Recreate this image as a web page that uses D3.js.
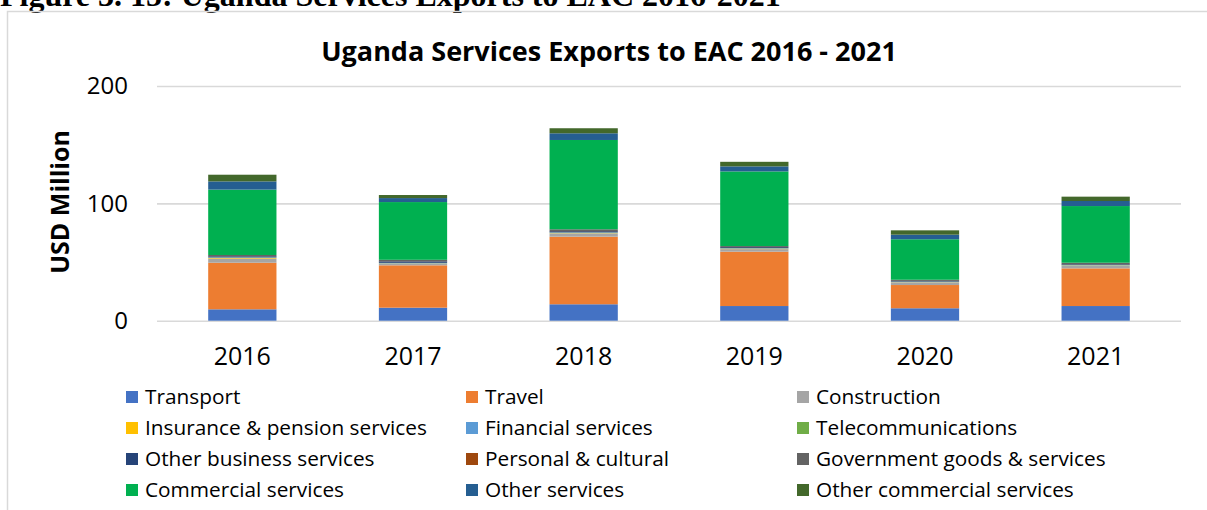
<!DOCTYPE html>
<html>
<head>
<meta charset="utf-8">
<script src="https://cdn.jsdelivr.net/npm/d3@7"></script>
<style>
  body { margin: 0; background: #fff; }
  svg { display: block; font-family: "Open Sans", sans-serif; }
</style>
</head>
<body>
<svg id="chart" width="1207" height="510"></svg>
<script>
// ── Data (USD million) ────────────────────────────────────────────────────
const years = ['2016', '2017', '2018', '2019', '2020', '2021'];

const seriesNames = [
  'Transport', 'Travel', 'Construction',
  'Insurance & pension services', 'Financial services', 'Telecommunications',
  'Other business services', 'Personal & cultural', 'Government goods & services',
  'Commercial services', 'Other services', 'Other commercial services'
];

const transport      = [9.7, 11.1, 14.0, 12.5, 10.6, 12.5];
const travel         = [39.7, 36.1, 57.6, 46.3, 19.8, 32.1];
const construction   = [3.5, 1.2, 2.5, 2.2, 2.2, 2.2];
const insurance      = [0.5, 0.3, 0.4, 0.3, 0.2, 0.2];
const financial      = [0.4, 0.4, 0.6, 0.4, 0.3, 0.3];
const telecom        = [0.2, 0.2, 0.2, 0.2, 0.2, 0.2];
const otherBusiness  = [0.9, 1.3, 1.0, 0.8, 0.5, 0.6];
const personal       = [0.1, 0.1, 0.1, 0.1, 0.1, 0.1];
const government     = [1.0, 1.2, 1.5, 0.8, 1.0, 1.2];
const commercial     = [55.7, 49.2, 76.1, 63.6, 34.5, 48.3];
const otherServices  = [7.0, 3.4, 5.7, 4.3, 3.9, 4.3];
const otherCommercial = [5.7, 2.6, 4.3, 3.9, 3.7, 3.7];

const yTicks = [0, 100, 200];

const colors = [
  '#4472C4', '#ED7D31', '#A5A5A5',
  '#FFC000', '#5B9BD5', '#70AD47',
  '#264478', '#9E480E', '#636363',
  '#00B050', '#255E91', '#43682B'
];

// build rows for d3.stack
const columns = [transport, travel, construction, insurance, financial, telecom,
  otherBusiness, personal, government, commercial, otherServices, otherCommercial];
const rows = years.map((yr, i) => {
  const r = { year: yr };
  seriesNames.forEach((name, k) => { r[name] = columns[k][i]; });
  return r;
});

const svg = d3.select('#chart');

// ── Frame + caption (caption is clipped by the top edge, as in the source) ──
svg.append('text')
  .attr('x', 0).attr('y', 6)
  .style('font-family', '"Liberation Serif", "Times New Roman", serif')
  .style('font-weight', 'bold')
  .style('font-size', '32px')
  .attr('fill', '#000')
  .text('Figure 3. 15: Uganda Services Exports to EAC 2016-2021');

svg.append('path')
  .attr('d', 'M7.5,510 V11.5 H1207')
  .attr('fill', 'none')
  .attr('stroke', '#d9d9d9')
  .attr('stroke-width', 1.5);

// ── Scales ───────────────────────────────────────────────────────────────
const x = d3.scaleBand().domain(years).range([157, 1181]).paddingInner(0.6).paddingOuter(0.3);
const y = d3.scaleLinear().domain([0, 200]).range([320.7, 86]);

// gridlines
const yAxis = svg.append('g')
  .attr('transform', 'translate(157,0)')
  .call(d3.axisLeft(y).tickValues(yTicks).tickSize(-1024).tickPadding(29));
yAxis.select('.domain').remove();
yAxis.selectAll('line').attr('stroke', '#d9d9d9').attr('stroke-width', 1.6);
yAxis.selectAll('text')
  .attr('fill', '#000')
  .style('font-family', '"Open Sans", sans-serif')
  .style('font-size', '24px');

// ── Bars ─────────────────────────────────────────────────────────────────
const stacked = d3.stack().keys(seriesNames)(rows);

svg.append('g')
  .selectAll('g')
  .data(stacked)
  .join('g')
  .attr('fill', (d, i) => colors[i])
  .selectAll('rect')
  .data(d => d)
  .join('rect')
  .attr('x', d => x(d.data.year))
  .attr('width', x.bandwidth())
  .attr('y', d => y(d[1]))
  .attr('height', d => y(d[0]) - y(d[1]));

// ── X axis labels ────────────────────────────────────────────────────────
const xAxis = svg.append('g')
  .attr('transform', 'translate(0,320.7)')
  .call(d3.axisBottom(x).tickSize(0).tickPadding(27));
xAxis.select('.domain').remove();
xAxis.selectAll('text')
  .attr('fill', '#000')
  .style('font-family', '"Open Sans", sans-serif')
  .style('font-size', '25px');

// ── Titles ───────────────────────────────────────────────────────────────
svg.append('text')
  .attr('x', 609).attr('y', 61)
  .attr('text-anchor', 'middle')
  .style('font-weight', 'bold')
  .style('font-size', '27px')
  .text('Uganda Services Exports to EAC 2016 - 2021');

svg.append('text')
  .attr('transform', 'translate(69,202) rotate(-90)')
  .attr('text-anchor', 'middle')
  .style('font-weight', 'bold')
  .style('font-size', '25px')
  .text('USD Million');

// ── Legend ───────────────────────────────────────────────────────────────
const legendCols = [126, 466, 797];
const legendRows = [397, 428, 459, 490];

const legend = svg.append('g')
  .selectAll('g')
  .data(seriesNames)
  .join('g')
  .attr('transform', (d, i) => `translate(${legendCols[i % 3]},${legendRows[Math.floor(i / 3)]})`);

legend.append('rect')
  .attr('x', 0).attr('y', -6)
  .attr('width', 12).attr('height', 12)
  .attr('fill', (d, i) => colors[i]);

legend.append('text')
  .attr('x', 19).attr('dy', '0.35em')
  .style('font-size', '20.8px')
  .attr('fill', '#000')
  .text(d => d);
</script>
</body>
</html>
